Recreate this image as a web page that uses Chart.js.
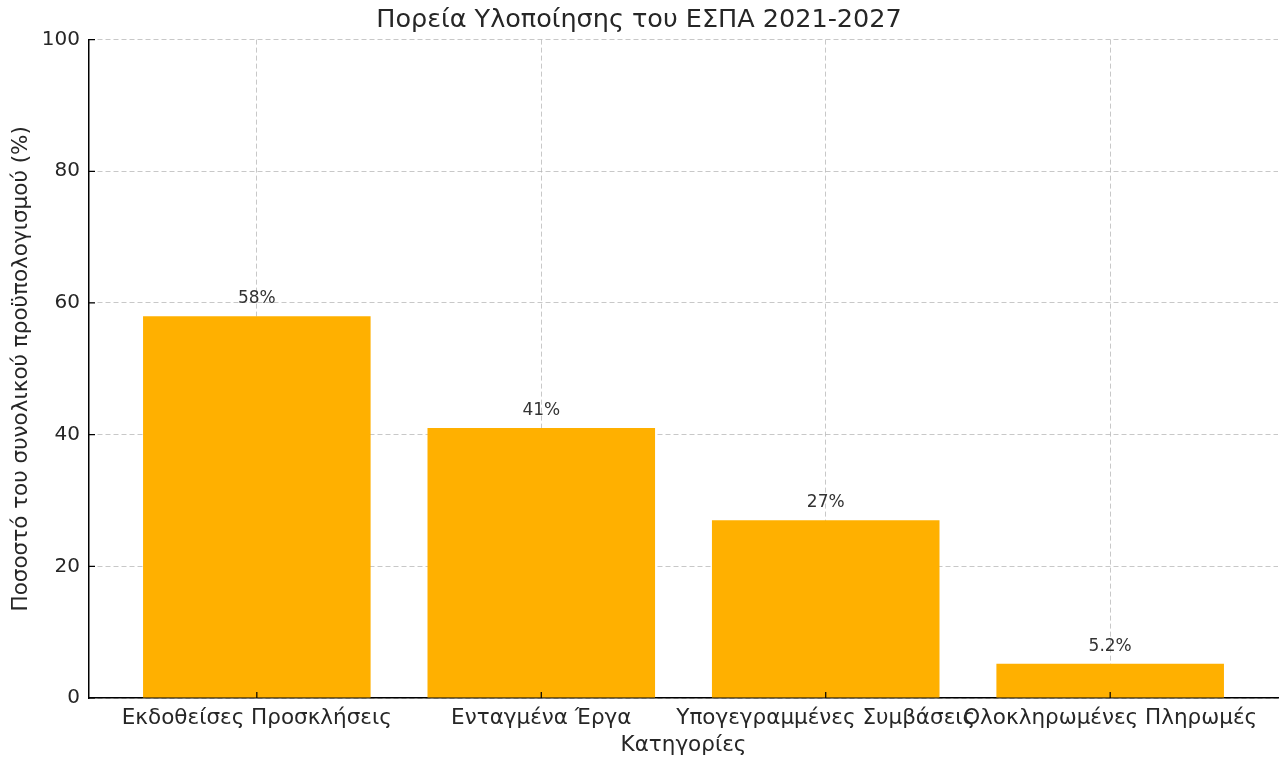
<!DOCTYPE html>
<html>
<head>
<meta charset="utf-8">
<script src="https://cdn.jsdelivr.net/npm/chart.js@4.4.1/dist/chart.umd.min.js"></script>
<style>
    html, body { margin: 0; padding: 0; background: #fff; }
    #wrap { width: 1280px; height: 758px; }
</style>
</head>
<body>
<div id="wrap"><canvas id="chart"></canvas></div>
<script>
var categories = ['Εκδοθείσες Προσκλήσεις', 'Ενταγμένα Έργα', 'Υπογεγραμμένες Συμβάσεις', 'Ολοκληρωμένες Πληρωμές'];
var values = [58, 41, 27, 5.2];
var valueLabels = ['58%', '41%', '27%', '5.2%'];
var yTicks = [0, 20, 40, 60, 80, 100];

var font = 'DejaVu Sans';
var textColor = '#262626';
var gridColor = 'rgba(176,176,176,0.7)';

// value labels above each bar + short inward tick marks
var barLabels = {
    id: 'barLabels',
    afterDraw: function (chart) {
        var ctx = chart.ctx;
        var meta = chart.getDatasetMeta(0);
        var area = chart.chartArea;
        ctx.save();
        ctx.font = '17px "' + font + '"';
        ctx.fillStyle = '#333';
        ctx.textAlign = 'center';
        ctx.textBaseline = 'bottom';
        meta.data.forEach(function (bar, i) {
            ctx.fillText(valueLabels[i], bar.x, bar.y - 9);
        });

        ctx.strokeStyle = '#000';
        ctx.lineWidth = 1.2;
        ctx.beginPath();
        chart.scales.x.ticks.forEach(function (t) {
            var px = chart.scales.x.getPixelForValue(t.value);
            ctx.moveTo(px, area.bottom);
            ctx.lineTo(px, area.bottom - 6);
        });
        chart.scales.y.ticks.forEach(function (t) {
            var py = chart.scales.y.getPixelForValue(t.value);
            ctx.moveTo(area.left, py);
            ctx.lineTo(area.left + 6, py);
        });
        ctx.stroke();
        ctx.restore();
    }
};

var data = {
    datasets: [{
        data: values.map(function (v, i) { return { x: i, y: v }; }),
        backgroundColor: '#ffb000',
        borderWidth: 0,
        barPercentage: 0.8,
        categoryPercentage: 1.0
    }]
};

var config = {
    type: 'bar',
    data: data,
    options: {
        responsive: true,
        maintainAspectRatio: false,
        animation: false,
        layout: { padding: { left: 0, right: 2, top: 0, bottom: 0 } },
        plugins: {
            legend: { display: false },
            tooltip: { enabled: false },
            title: {
                display: true,
                text: 'Πορεία Υλοποίησης του ΕΣΠΑ 2021-2027',
                color: textColor,
                font: { family: font, size: 25.5, weight: 'normal' },
                padding: { top: 5, bottom: 4 }
            }
        },
        scales: {
            x: {
                type: 'linear',
                min: -0.59,
                max: 3.59,
                offset: false,
                z: 1,
                afterBuildTicks: function (scale) {
                    scale.ticks = categories.map(function (c, i) { return { value: i }; });
                },
                afterFit: function (scale) { scale.height = 60; },
                ticks: {
                    autoSkip: false,
                    maxRotation: 0,
                    padding: 8,
                    color: textColor,
                    font: { family: font, size: 21.5 },
                    callback: function (value) { return categories[value]; }
                },
                grid: {
                    color: gridColor,
                    offset: false,
                    drawTicks: false
                },
                border: { display: true, color: '#000', width: 1.5, dash: [5, 3] },
                title: {
                    display: true,
                    text: 'Κατηγορίες',
                    color: textColor,
                    font: { family: font, size: 21.5 },
                    padding: { top: 0, bottom: 0 }
                }
            },
            y: {
                min: 0,
                max: 100,
                z: 1,
                afterBuildTicks: function (scale) {
                    scale.ticks = yTicks.map(function (v) { return { value: v }; });
                },
                afterFit: function (scale) { scale.width = 89; },
                ticks: {
                    padding: 9,
                    color: textColor,
                    font: { family: font, size: 20 }
                },
                grid: {
                    color: gridColor,
                    drawTicks: false
                },
                border: { display: true, color: '#000', width: 1.5, dash: [5, 3] },
                title: {
                    display: true,
                    text: 'Ποσοστό του συνολικού προϋπολογισμού (%)',
                    color: textColor,
                    font: { family: font, size: 21.5 },
                    padding: { top: 9, bottom: 0 }
                }
            }
        }
    },
    plugins: [barLabels]
};

var myChart = new Chart(document.getElementById('chart'), config);
</script>
</body>
</html>
